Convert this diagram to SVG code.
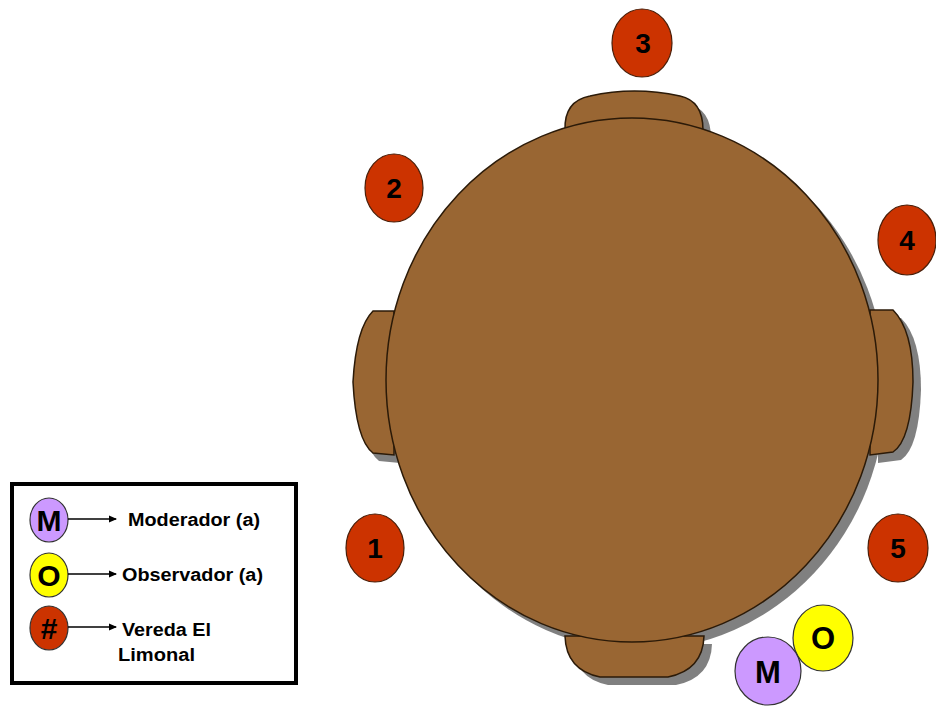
<svg xmlns="http://www.w3.org/2000/svg" width="936" height="706" viewBox="0 0 936 706">
<style>
.shadow{fill:#808080}
.wood{fill:#996633;stroke:#2b1a08;stroke-width:1.5}
.seat{fill:#cc3300;stroke:#4a1e08;stroke-width:1.2}
.num{font-family:"Liberation Sans",Arial,sans-serif;font-weight:bold;font-size:28px;fill:#000;text-anchor:middle}
.big{font-family:"Liberation Sans",Arial,sans-serif;font-weight:bold;font-size:31px;fill:#000;text-anchor:middle}
.lg{font-family:"Liberation Sans",Arial,sans-serif;font-weight:bold;font-size:18px;fill:#000}
.lgl{font-family:"Liberation Sans",Arial,sans-serif;font-weight:bold;font-size:30px;fill:#000;text-anchor:middle}
.arr{stroke:#000;stroke-width:1.5;fill:none}
</style>
<defs>
<marker id="ah" markerWidth="8" markerHeight="8" refX="7" refY="4" orient="auto" markerUnits="userSpaceOnUse">
<path d="M0,0.5 L8,4 L0,7.5 Z" fill="#000"/>
</marker>
<path id="chairTop" d="M565,130 Q564,101 590,96 Q634,86 680,96 Q703,101 703,130 Z"/>
<path id="chairBottom" d="M565,636 Q566,670 600,677 L668,677 Q703,670 704,636 Z"/>
<path id="chairLeft" d="M394,311 L373,311 Q356,328 353,382 Q356,440 373,453 L394,455 Z"/>
<path id="chairRight" d="M870,310 L893,310 Q913,330 913,382 Q911,440 893,452 L870,455 Z"/>
</defs>
<rect width="936" height="706" fill="#fff"/>
<g id="table">
<ellipse class="shadow" cx="640" cy="388" rx="246" ry="262"/>
<use href="#chairTop" class="shadow" transform="translate(8,8)"/>
<use href="#chairBottom" class="shadow" transform="translate(8,8)"/>
<use href="#chairLeft" class="shadow" transform="translate(6,8)"/>
<use href="#chairRight" class="shadow" transform="translate(8,8)"/>
<use href="#chairTop" class="wood"/>
<use href="#chairBottom" class="wood"/>
<use href="#chairLeft" class="wood"/>
<use href="#chairRight" class="wood"/>
<ellipse class="wood" cx="632" cy="380" rx="246" ry="262"/>
</g>
<g id="p1"><ellipse class="seat" cx="375" cy="548" rx="29" ry="34"/><text class="num" x="375" y="558">1</text></g>
<g id="p2"><ellipse class="seat" cx="394" cy="188" rx="29" ry="34"/><text class="num" x="394" y="198">2</text></g>
<g id="p3"><ellipse class="seat" cx="642" cy="43" rx="30" ry="34"/><text class="num" x="643" y="53">3</text></g>
<g id="p4"><ellipse class="seat" cx="907" cy="240" rx="29" ry="35"/><text class="num" x="907" y="250">4</text></g>
<g id="p5"><ellipse class="seat" cx="898" cy="548" rx="30" ry="34"/><text class="num" x="898" y="558">5</text></g>
<g id="observer"><ellipse cx="823" cy="638" rx="30" ry="33" fill="#ffff00" stroke="#333" stroke-width="1.2"/><text class="big" x="823" y="649">O</text></g>
<g id="moderator"><ellipse cx="768" cy="671" rx="33" ry="34" fill="#cc99ff" stroke="#333" stroke-width="1.2"/><text class="big" x="768" y="683">M</text></g>
<g id="legend">
<rect x="12" y="484" width="284" height="199" fill="#fff" stroke="#000" stroke-width="4"/>
<ellipse cx="49" cy="520" rx="19" ry="22" fill="#cc99ff" stroke="#333" stroke-width="1.2"/>
<text class="lgl" x="49" y="531">M</text>
<ellipse cx="49" cy="575" rx="19" ry="22" fill="#ffff00" stroke="#333" stroke-width="1.2"/>
<text class="lgl" x="49" y="586">O</text>
<ellipse cx="49" cy="628" rx="19" ry="22" fill="#cc3300" stroke="#333" stroke-width="1.2"/>
<text class="lgl" x="49" y="639">#</text>
<g id="connectors">
<line class="arr" x1="68" y1="519" x2="116" y2="519" marker-end="url(#ah)"/>
<line class="arr" x1="68" y1="574" x2="116" y2="574" marker-end="url(#ah)"/>
<line class="arr" x1="68" y1="627" x2="116" y2="627" marker-end="url(#ah)"/>
</g>
<text class="lg" x="128" y="526" textLength="132" lengthAdjust="spacingAndGlyphs">Moderador (a)</text>
<text class="lg" x="122" y="581" textLength="141" lengthAdjust="spacingAndGlyphs">Observador (a)</text>
<text class="lg" x="122" y="636" textLength="89" lengthAdjust="spacingAndGlyphs">Vereda El</text>
<text class="lg" x="118" y="661" textLength="77" lengthAdjust="spacingAndGlyphs">Limonal</text>
</g>
</svg>
